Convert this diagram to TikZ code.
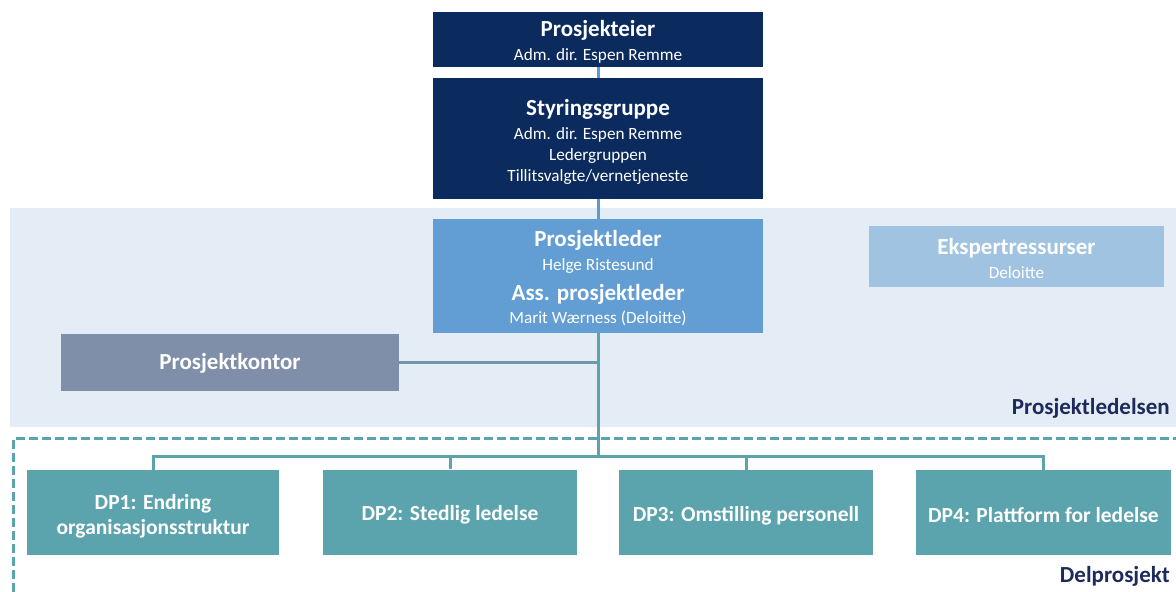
\documentclass[tikz,border=0pt]{standalone}
\usepackage{fontspec}
\setmainfont{Carlito}
\setlength{\lineskiplimit}{-100pt}
\definecolor{navy}{HTML}{0B2A5E}
\definecolor{midblue}{HTML}{629ED3}
\definecolor{paleblue}{HTML}{A0C3E2}
\definecolor{band}{HTML}{E4ECF5}
\definecolor{greyblue}{HTML}{7F8FA9}
\definecolor{teal}{HTML}{5BA3AD}
\definecolor{linkblue}{HTML}{5B9BD5}
\definecolor{labelnavy}{HTML}{1F2A5C}
\tikzset{
  box/.style={inner sep=0pt},
  txt/.style={inner sep=0pt, text=white, align=center, font=\fontsize{17.2}{21}\selectfont},
  dptxt/.style={txt, font=\fontsize{21.5}{25}\selectfont\bfseries},
  dpbox/.style={box, fill=teal, minimum width=254, minimum height=85},
  lnk/.style={line width=3pt},
  grouplabel/.style={anchor=east, text=labelnavy, font=\fontsize{23}{24}\selectfont\bfseries, inner sep=0pt}
}
\newcommand{\ttlx}[1]{{\fontsize{23}{21}\selectfont\bfseries #1}}
\begin{document}
\begin{tikzpicture}[x=1pt,y=-1pt]
\useasboundingbox (0,0) rectangle (1176,592);
\fill[white] (0,0) rectangle (1176,592);
% band
\fill[band] (10,208) rectangle (1176,427);
% dashed frame
\draw[teal, line width=3pt, dash pattern=on 9pt off 4pt] (1182,438.5) -- (13.5,438.5) -- (13.5,600);
% top nodes
\node[box, fill=navy, minimum width=330, minimum height=55,
  label={[txt, yshift=-2pt]center:{\ttlx{Prosjekteier}\\[3pt]Adm. dir. Espen Remme}}] (eier) at (598,39.5) {};
\node[box, fill=navy, minimum width=330, minimum height=121,
  label={[txt, yshift=-3.5pt]center:{\ttlx{Styringsgruppe}\\[3pt]Adm. dir. Espen Remme\\Ledergruppen\\Tillitsvalgte/vernetjeneste}}] (styr) at (598,138.5) {};
\node[box, fill=midblue, minimum width=330, minimum height=114,
  label={[txt, yshift=-2.5pt]center:{\ttlx{Prosjektleder}\\[3pt]Helge Ristesund\\[9pt]\ttlx{Ass. prosjektleder}\\[2pt]Marit Wærness (Deloitte)}}] (leder) at (598,276) {};
\node[box, fill=paleblue, minimum width=295, minimum height=61,
  label={[txt, yshift=-1.5pt]center:{\ttlx{Ekspertressurser}\\[3pt]Deloitte}}] (ekspert) at (1016.5,256.5) {};
\node[box, fill=greyblue, minimum width=338, minimum height=57,
  label={[txt, yshift=-1pt, font=\fontsize{23}{24}\selectfont\bfseries]center:Prosjektkontor}] (kontor) at (230,362.5) {};
% DP nodes
\node[dpbox, minimum width=252, label={[dptxt, yshift=-4pt]center:{DP1: Endring\\organisasjonsstruktur}}] (dp1) at (153,512.5) {};
\node[dpbox, label={[dptxt, yshift=-3pt]center:{DP2: Stedlig ledelse}}] (dp2) at (450,512) {};
\node[dpbox, label={[dptxt, yshift=-3pt]center:{DP3: Omstilling personell}}] (dp3) at (746,512.5) {};
\node[dpbox, minimum width=255, label={[dptxt, yshift=-2.5pt]center:{DP4: Plattform for ledelse}}] (dp4) at (1043.5,512.5) {};
% labels
\node[grouplabel] (lbl1) at (1170,408) {Prosjektledelsen};
\node[grouplabel] (lbl2) at (1170,576.5) {Delprosjekt};
% connectors
\draw[linkblue, lnk] (eier.south) -- (styr.north);
\draw[linkblue, lnk] (styr.south) -- (leder.north);
\coordinate (bus) at (598,456);
\draw[teal, lnk] (leder.south) -- (bus);
\draw[greyblue!60!teal, lnk] (kontor.east) -- (kontor.east -| leder.south);
\draw[teal, lnk] (dp1.north) |- (bus) -| (dp4.north);
\draw[teal, lnk] (dp2.north) -- (dp2.north |- bus);
\draw[teal, lnk] (dp3.north) -- (dp3.north |- bus);
\end{tikzpicture}
\end{document}
